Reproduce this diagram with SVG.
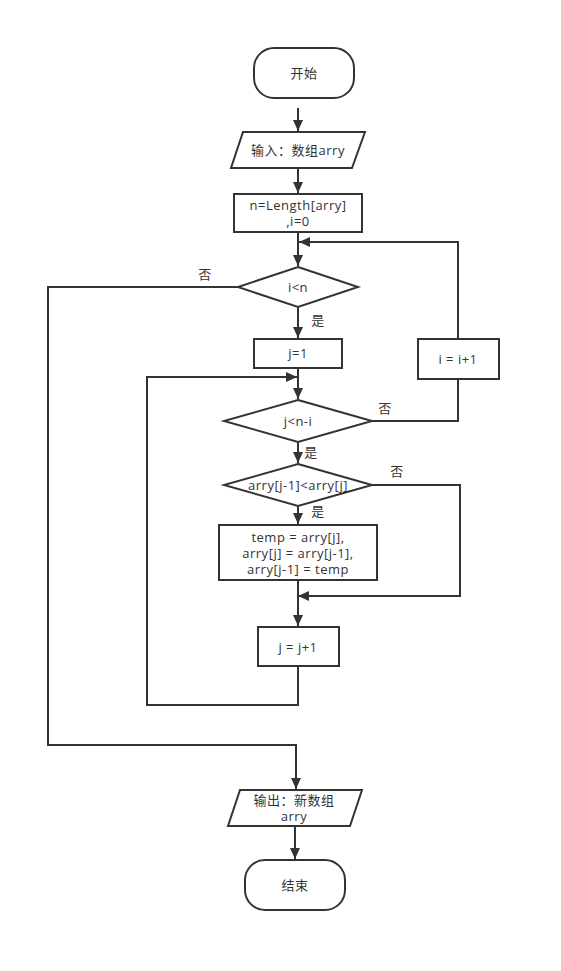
<svg xmlns="http://www.w3.org/2000/svg" width="561" height="971" viewBox="0 0 561 971">
<style>
.s{fill:#fff;stroke:#333;stroke-width:2}
.c{fill:none;stroke:#333;stroke-width:2}
text{font-family:"Open Sans","Noto Sans CJK SC",sans-serif;font-size:13px;letter-spacing:0.5px;fill:#333;text-anchor:middle;dominant-baseline:central}
</style>
<defs>
<marker id="a" markerUnits="userSpaceOnUse" markerWidth="12" markerHeight="10" refX="11" refY="5" orient="auto">
<path d="M0,0 L11,5 L0,10 z" fill="#333"/>
</marker>
</defs>
<g id="connectors">
<line class="c" x1="298" y1="108" x2="298" y2="131" marker-end="url(#a)"/>
<line class="c" x1="298" y1="168" x2="298" y2="193" marker-end="url(#a)"/>
<line class="c" x1="298" y1="232" x2="298" y2="266" marker-end="url(#a)"/>
<polyline class="c" points="458,339 458,242 299,242" marker-end="url(#a)"/>
<polyline class="c" points="238,287 48,287 48,745 296,745 296,789" marker-end="url(#a)"/>
<line class="c" x1="298" y1="307" x2="298" y2="338" marker-end="url(#a)"/>
<line class="c" x1="298" y1="368" x2="298" y2="399" marker-end="url(#a)"/>
<polyline class="c" points="298,667 298,705 147,705 147,377 297,377" marker-end="url(#a)"/>
<polyline class="c" points="372,421 458,421 458,379"/>
<line class="c" x1="298" y1="442" x2="298" y2="463" marker-end="url(#a)"/>
<polyline class="c" points="372,485 460,485 460,596 298,596" marker-end="url(#a)"/>
<line class="c" x1="298" y1="506" x2="298" y2="524" marker-end="url(#a)"/>
<line class="c" x1="298" y1="580" x2="298" y2="626" marker-end="url(#a)"/>
<line class="c" x1="295" y1="826" x2="295" y2="859" marker-end="url(#a)"/>
<text x="205" y="274">否</text>
<text x="318" y="320">是</text>
<text x="385" y="408">否</text>
<text x="311" y="452">是</text>
<text x="397" y="471">否</text>
<text x="318" y="511">是</text>
</g>
<g id="start"><rect class="s" x="254" y="48" width="100" height="50" rx="20"/><text x="304" y="73">开始</text></g>
<g id="input"><polygon class="s" points="243,132 365,132 352,168 231,168"/><text x="298" y="150">输入：数组arry</text></g>
<g id="init"><rect class="s" x="234" y="194" width="128" height="38"/><text x="298" y="205">n=Length[arry]</text><text x="298" y="221">,i=0</text></g>
<g id="cond_i"><polygon class="s" points="298,267 358,287 298,307 238,287"/><text x="298" y="287">i&lt;n</text></g>
<g id="j1"><rect class="s" x="254" y="339" width="88" height="29"/><text x="298" y="353">j=1</text></g>
<g id="inc_i"><rect class="s" x="418" y="339" width="81" height="40"/><text x="458" y="359">i = i+1</text></g>
<g id="cond_j"><polygon class="s" points="298,400 372,421 298,442 224,421"/><text x="298" y="421">j&lt;n-i</text></g>
<g id="cond_cmp"><polygon class="s" points="298,464 372,485 298,506 224,485"/><text x="298" y="485">arry[j-1]&lt;arry[j]</text></g>
<g id="swap"><rect class="s" x="219" y="525" width="158" height="55"/><text x="298" y="537">temp = arry[j],</text><text x="298" y="553">arry[j] = arry[j-1],</text><text x="298" y="569">arry[j-1] = temp</text></g>
<g id="inc_j"><rect class="s" x="258" y="627" width="81" height="39"/><text x="298" y="647">j = j+1</text></g>
<g id="output"><polygon class="s" points="240,790 362,790 350,826 228,826"/><text x="294" y="800">输出：新数组</text><text x="294" y="816">arry</text></g>
<g id="end"><rect class="s" x="245" y="860" width="100" height="50" rx="20"/><text x="295" y="885">结束</text></g>
</svg>
